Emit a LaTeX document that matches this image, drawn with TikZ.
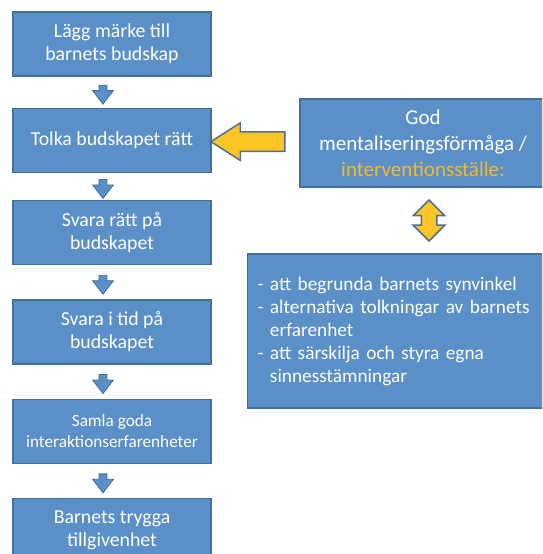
\documentclass[tikz,border=0pt]{standalone}
\usepackage{fontspec}
\setmainfont{Carlito}
\usetikzlibrary{positioning,shapes.arrows,calc}
\definecolor{boxfill}{HTML}{5A8FC7}
\definecolor{boxline}{HTML}{41709E}
\definecolor{gold}{HTML}{FDC425}
\definecolor{goldtext}{HTML}{F7BA2C}
\definecolor{arrline}{HTML}{4E6F8F}
\tikzset{
  stepbox/.style={draw=boxline, line width=1.3pt, fill=boxfill, text=white, align=center,
    minimum width=198pt, minimum height=64pt, inner sep=2pt, font=\fontsize{19.8}{23}\selectfont},
  sidebox/.style={stepbox, minimum width=246pt, minimum height=88pt, font=\fontsize{21}{26}\selectfont},
  listbox/.style={stepbox, align=left, text width=310pt, minimum width=330pt, minimum height=154pt,
    inner xsep=10pt, font=\fontsize{19.3}{23}\selectfont},
  downarr/.style={single arrow, draw=boxline, fill=boxfill, line width=0.8pt, inner sep=3.5pt,
    minimum height=19pt, single arrow head extend=6.5pt,
    single arrow tip angle=75, shape border rotate=270},
  leftarr/.style={single arrow, draw=arrline, fill=gold, line width=1.5pt, inner sep=9pt,
    minimum height=74pt, single arrow head extend=9pt,
    single arrow tip angle=65, shape border rotate=180},
  updownarr/.style={double arrow, draw=arrline, fill=gold, line width=1.5pt, inner sep=7pt,
    minimum height=41pt, double arrow head extend=8pt,
    double arrow tip angle=90, shape border rotate=90},
}
\begin{document}
\begin{tikzpicture}[x=1pt, y=1pt]
\useasboundingbox (0,0) rectangle (542,554);
\clip (0,0) rectangle (542,554);

% ---------------- left column ----------------
\node[stepbox] (notice) at (112,510) {Lägg märke till\\barnets budskap};
\node[stepbox, below=31pt of notice] (interpret) {Tolka budskapet rätt};
\node[stepbox, below=27pt of interpret] (answer) {Svara rätt på\\budskapet};
\node[stepbox, below=34pt of answer] (intime) {Svara i tid på\\budskapet};
\node[stepbox, below=34pt of intime, font=\fontsize{17.2}{21}\selectfont] (collect) {Samla goda\\interaktionserfarenheter};
\node[stepbox, below=34pt of collect] (secure) {Barnets trygga\\tillgivenhet};

% ---------------- right side ----------------
\node[sidebox] (mental) at (423,411) {God\\mentaliseringsförmåga /\\\textcolor{goldtext}{interventionsställe:}};
\node[listbox, anchor=west] (skills) at (247,223) {- att begrunda barnets synvinkel\\
  - alternativa tolkningar av barnets\\
  \phantom{- }erfarenhet\\
  - att särskilja och styra egna\\
  \phantom{- }sinnesstämningar};

% ---------------- arrows ----------------
\foreach \a/\b in {notice/interpret, interpret/answer, answer/intime, intime/collect, collect/secure}
  \node[downarr] (\a-\b) at ($(\a.south)!0.5!(\b.north)+(-9,0)$) {};
\node[leftarr] (feed) at ($(interpret.east)!0.5!(mental.west)$) {};
\node[updownarr] (link) at ($(mental.south)!0.5!(skills.north -| mental.south)+(6,0)$) {};

\end{tikzpicture}
\end{document}
